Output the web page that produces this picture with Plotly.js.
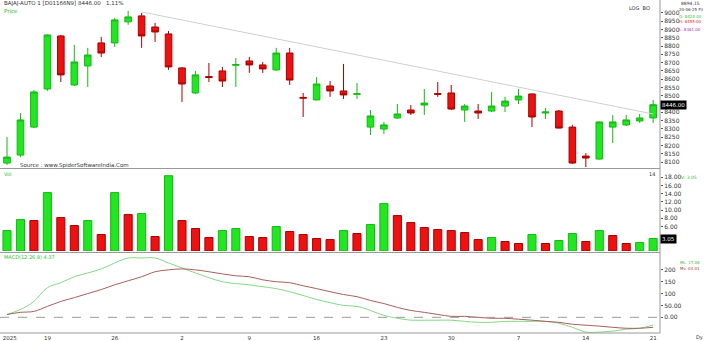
<!DOCTYPE html>
<html><head><meta charset="utf-8">
<script src="https://cdn.plot.ly/plotly-3.0.1.min.js"></script>
<style>html,body{margin:0;padding:0;background:#fff}#c{width:705px;height:341px}</style>
</head><body><div id="c"></div>
<script>
// ---- data ----
const bars = [1,2,3,4,5,6,7,8,9,10,11,12,13,14,15,16,17,18,19,20,21,22,23,24,25,26,27,28,29,30,31,32,33,34,35,36,37,38,39,40,41,42,43,44,45,46,47,48,49];
const openP  = [8094,8142,8311,8541,8861,8565,8680,8819,8819,8946,8982,8915,8873,8668,8517,8616,8650,8684,8710,8686,8656,8758,8490,8475,8559,8529,8509,8311,8299,8366,8414,8444,8513,8517,8414,8408,8408,8438,8475,8511,8396,8408,8311,8136,8118,8311,8324,8348,8366];
const highP  = [8251,8396,8535,8870,8867,8807,8789,8855,8970,9012,9000,8940,8891,8674,8650,8698,8674,8728,8734,8704,8789,8789,8517,8613,8589,8692,8577,8414,8342,8450,8444,8541,8583,8565,8450,8450,8523,8493,8541,8513,8426,8414,8324,8154,8345,8384,8384,8390,8475];
const lowP   = [8082,8130,8305,8529,8583,8559,8553,8734,8795,8928,8789,8825,8656,8462,8511,8583,8553,8553,8638,8638,8650,8565,8372,8472,8493,8481,8481,8263,8269,8360,8384,8384,8493,8414,8342,8360,8402,8402,8450,8311,8360,8302,8088,8070,8115,8215,8317,8336,8336];
const closeP = [8130,8354,8523,8867,8626,8704,8746,8758,8958,8976,8861,8885,8674,8571,8626,8610,8589,8688,8686,8662,8758,8595,8486,8571,8529,8505,8512,8378,8324,8390,8396,8456,8509,8420,8438,8396,8438,8468,8498,8372,8402,8305,8094,8124,8342,8342,8354,8366,8446];
const volume = [5.0,7.68,7.44,14.27,8.17,6.22,7.44,4.02,14.27,8.9,9.15,3.54,18.41,7.44,5.49,3.29,5.0,5.49,3.54,3.29,5.98,4.76,4.02,3.05,2.8,5.0,4.27,6.46,11.59,8.66,6.95,5.73,5.24,5.0,4.51,2.8,3.29,2.32,1.83,4.02,1.83,2.56,4.27,2.32,5.0,3.78,1.83,2.07,3.05];
const volUp  = [1,1,0,1,0,0,1,0,1,0,1,0,1,0,0,0,1,1,0,0,1,0,0,0,0,1,0,1,1,0,0,0,0,0,0,0,1,0,0,1,0,1,1,0,1,0,0,1,1];
const macdLine   = [12,33,67,125,146,171,187,204,229,250,250,250,229,208,187,167,150,142,137,129,121,108,92,75,62,50,46,29,8,-4,-12,-12,-12,-12,-17,-21,-21,-17,-17,-17,-17,-25,-42,-62,-62,-58,-50,-46,-33];
const signalLine = [12,21,25,46,67,83,100,117,137,154,171,192,200,204,200,192,183,175,171,158,150,146,133,121,108,96,87,71,58,42,29,21,12,4,4,0,-4,-4,-8,-12,-17,-21,-29,-33,-37,-42,-46,-46,-42];
const trendX = [11, 49];
const trendY = [9006, 8390];
const weekTickPos  = [1.2, 4, 9, 14, 19, 24, 29, 34, 39, 44, 49];
const weekTickText = ['2025','19','26','2','9','16','23','30','7','14','21'];
const priceTicks = [8100,8150,8200,8250,8300,8350,8400,8500,8550,8600,8650,8700,8750,8800,8850,8900,8950,9000];
const volTicks = [6,8,10,12,14,16,18];
const indTicks = [0,50,100,150,200];
const indTickText = ['0.00','50.00','100','150','200'];

// ---- style ----
const G = '#22E622', GE = '#14B814', R = '#EE1111', RE = '#A80000';
const F = 'DejaVu Sans';
const H = 333; // plot area height
const py = p => (H - p) / H;
const px = p => p / 660;

const traces = [
  {type:'candlestick', x:bars, open:openP, high:highP, low:lowP, close:closeP,
   xaxis:'x', yaxis:'y',
   increasing:{line:{color:GE, width:1}, fillcolor:G},
   decreasing:{line:{color:RE, width:1}, fillcolor:R},
   whiskerwidth:0, hoverinfo:'skip', showlegend:false},
  {type:'scatter', mode:'lines', x:trendX, y:trendY, xaxis:'x', yaxis:'y',
   line:{color:'#CFCFCF', width:1}, hoverinfo:'skip', showlegend:false},
  {type:'bar', x:bars, y:volume, xaxis:'x', yaxis:'y2', width:0.6,
   marker:{color:volUp.map(u=>u?G:R), line:{color:volUp.map(u=>u?GE:RE), width:1}},
   hoverinfo:'skip', showlegend:false},
  {type:'scatter', mode:'lines', x:bars, y:macdLine, xaxis:'x', yaxis:'y3',
   line:{color:'#86D886', width:1, shape:'spline'}, hoverinfo:'skip', showlegend:false},
  {type:'scatter', mode:'lines', x:bars, y:signalLine, xaxis:'x', yaxis:'y3',
   line:{color:'#A8605A', width:1, shape:'spline'}, hoverinfo:'skip', showlegend:false}
];

const tf = {family:F, size:6, color:'#333'};
const small = (t, x, y, c, s) => ({xref:'paper', yref:'paper', x:px(x), y:py(y), xanchor:'left', yanchor:'middle',
  showarrow:false, text:t, font:{family:F, size:s, color:c}});
const layout = {
  width:705, height:341, margin:{l:0, r:45, t:0, b:8},
  paper_bgcolor:'#fff', plot_bgcolor:'#fff', showlegend:false, bargap:0.4,
  xaxis:{range:[0.48,49.51], anchor:'y3', tickvals:weekTickPos, ticktext:weekTickText,
    ticks:'', tickfont:{family:F, size:5.5, color:'#333'}, showgrid:false, zeroline:false,
    rangeslider:{visible:false}, fixedrange:true},
  yaxis:{domain:[py(168),1], range:[8064,9078], side:'right', anchor:'x', tickvals:priceTicks,
    ticks:'outside', ticklen:2, tickcolor:'#555', tickfont:tf, showgrid:false, zeroline:false},
  yaxis2:{domain:[py(251),py(170)], range:[0,19.8], side:'right', anchor:'x', tickvals:volTicks,
    tickformat:'.2f', ticks:'outside', ticklen:2, tickcolor:'#555', tickfont:tf, showgrid:false, zeroline:false},
  yaxis3:{domain:[0,py(253)], range:[-66,271], side:'right', anchor:'x', tickvals:indTicks, ticktext:indTickText,
    ticks:'outside', ticklen:2, tickcolor:'#555', tickfont:tf, showgrid:false, zeroline:false},
  shapes:[
    {type:'line', xref:'paper', yref:'paper', x0:0, x1:1, y0:py(168.5), y1:py(168.5), line:{color:'#999', width:1}},
    {type:'line', xref:'paper', yref:'paper', x0:0, x1:1, y0:py(252.5), y1:py(252.5), line:{color:'#999', width:1}},
    {type:'line', xref:'paper', yref:'paper', x0:0, x1:1, y0:0, y1:0, line:{color:'#999', width:1}},
    {type:'line', xref:'paper', yref:'paper', x0:1, x1:1, y0:0, y1:1, line:{color:'#999', width:1}},
    {type:'line', xref:'paper', yref:'y3', x0:0, x1:1, y0:0, y1:0, line:{color:'#9A9A9A', width:1, dash:'dash'}}
  ],
  annotations:[
    small('BAJAJ-AUTO 1 [D01166N9] 8446.00   1.11%', 2, 4, '#333', 5.5),
    small('Price', 2, 11, '#2DBE2D', 5.5),
    small('Source : www.SpiderSoftwareIndia.Com', 18, 165, '#333', 5.5),
    small('Vol', 2, 174, '#2DBE2D', 5),
    {xref:'paper', yref:'paper', x:px(657), y:py(174), xanchor:'right', yanchor:'middle', showarrow:false,
     text:'14', font:{family:F, size:5, color:'#333'}},
    small('MACD(12,26,9) 4.37', 2, 257, '#2DBE2D', 5),
    {xref:'paper', yref:'paper', x:px(652), y:py(8), xanchor:'right', yanchor:'middle', showarrow:false,
     text:'LOG  BO', font:{family:F, size:5, color:'#333'}},
    small('8894.15', 679, 4, '#333', 4.5),
    small('20-06-25 Fri', 677, 10, '#333', 4),
    small('O: 8424.00', 677, 16, '#2DBE2D', 4),
    small('H: 8455.00', 677, 22, '#D22', 4),
    small('L: 8361.00', 677, 29, '#B02AB0', 4),
    small('V: 3.05', 679, 178, '#2DBE2D', 4.5),
    small('Mc. 17.08', 678, 262, '#2DBE2D', 4),
    small('Mv. 03.01', 678, 268, '#B03030', 4),
    small('Dy', 694, 337, '#333', 5),
    {xref:'paper', yref:'y', x:1, y:closeP[closeP.length-1], xanchor:'left', yanchor:'middle', showarrow:false,
     text:'8446.00', bgcolor:'#000', font:{family:F, size:5.5, color:'#fff'}, borderpad:1},
    {xref:'paper', yref:'y2', x:1, y:volume[volume.length-1], xanchor:'left', yanchor:'middle', showarrow:false,
     text:'3.05', bgcolor:'#000', font:{family:F, size:5.5, color:'#fff'}, borderpad:1}
  ]
};
Plotly.newPlot('c', traces, layout, {staticPlot:true, displayModeBar:false});
</script></body></html>
